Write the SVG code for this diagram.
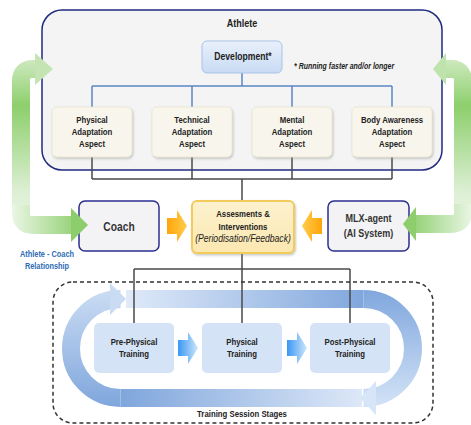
<svg xmlns="http://www.w3.org/2000/svg" width="471" height="425" viewBox="0 0 471 425">
<style>
text{font-family:"Liberation Sans",Arial,sans-serif;fill:#222;text-anchor:middle;font-weight:bold}
.asp{font-size:9.5px}
.tr{font-size:9.5px}
.it{font-style:italic;font-weight:normal}
.box{fill:#f3f3f5;stroke:#2b2f8f;stroke-width:1.5}
.aspect{fill:#f8f6ec;stroke:#ebe6cf;stroke-width:0.8}
.trbox{fill:#d4e3f5}
.blue{fill:none;stroke:#5b86c5;stroke-width:1.5}
.gray{fill:none;stroke:#4a4a4a;stroke-width:1.5}
.band{fill:none;stroke-width:18}
</style>
<defs>
<filter id="sh" x="-10%" y="-10%" width="130%" height="130%">
<feDropShadow dx="1" dy="1.5" stdDeviation="1" flood-color="#888" flood-opacity="0.45"/>
</filter>
<linearGradient id="dev" x1="0" y1="0" x2="0" y2="1"><stop offset="0" stop-color="#e9f0fb"/><stop offset="1" stop-color="#c8dbf4"/></linearGradient>
<linearGradient id="asm" x1="0" y1="0" x2="0" y2="1"><stop offset="0" stop-color="#fdf2cf"/><stop offset="1" stop-color="#fbe7b0"/></linearGradient>
<linearGradient id="orL" x1="0" y1="0" x2="1" y2="0"><stop offset="0" stop-color="#ffa50a"/><stop offset="1" stop-color="#ffcc4d"/></linearGradient>
<linearGradient id="orR" x1="1" y1="0" x2="0" y2="0"><stop offset="0" stop-color="#ffa50a"/><stop offset="1" stop-color="#ffcc4d"/></linearGradient>
<linearGradient id="sb" x1="0" y1="0" x2="1" y2="0"><stop offset="0" stop-color="#3a97f3"/><stop offset="1" stop-color="#cfe6fb"/></linearGradient>
<linearGradient id="gLv" gradientUnits="userSpaceOnUse" x1="0" y1="55" x2="0" y2="225"><stop offset="0" stop-color="#d4ecc7"/><stop offset="0.3" stop-color="#8dcf6c"/><stop offset="0.8" stop-color="#dcefd3"/><stop offset="1" stop-color="#eaf6e5"/></linearGradient>
<linearGradient id="gLh" gradientUnits="userSpaceOnUse" x1="12" y1="0" x2="80" y2="0"><stop offset="0" stop-color="#eaf6e5"/><stop offset="1" stop-color="#8fcf6f"/></linearGradient>
<linearGradient id="gRh" gradientUnits="userSpaceOnUse" x1="472" y1="0" x2="410" y2="0"><stop offset="0" stop-color="#eaf6e5"/><stop offset="1" stop-color="#8fcf6f"/></linearGradient>
<linearGradient id="ltA" gradientUnits="userSpaceOnUse" x1="126" y1="0" x2="364" y2="0"><stop offset="0" stop-color="#e0eaf9"/><stop offset="1" stop-color="#80a7dd"/></linearGradient>
<linearGradient id="lrB" gradientUnits="userSpaceOnUse" x1="0" y1="290" x2="0" y2="407"><stop offset="0" stop-color="#80a7dd"/><stop offset="1" stop-color="#d3e3f7"/></linearGradient>
<linearGradient id="lbA" gradientUnits="userSpaceOnUse" x1="362" y1="0" x2="120" y2="0"><stop offset="0" stop-color="#dde8f8"/><stop offset="1" stop-color="#7fa6dc"/></linearGradient>
<linearGradient id="llA" gradientUnits="userSpaceOnUse" x1="0" y1="407" x2="0" y2="290"><stop offset="0" stop-color="#7fa6dc"/><stop offset="1" stop-color="#cadcf3"/></linearGradient>
</defs>

<g id="athlete">
<rect x="42" y="10" width="400" height="160" rx="20" fill="#f4f4f4" stroke="#1f2a80" stroke-width="1.5"/>
<g transform="translate(242 0) scale(0.82 1)"><text x="0" y="27" font-size="11">Athlete</text></g>
<g transform="translate(294 0) scale(0.82 1)"><text x="0" y="69" font-size="8.5" style="text-anchor:start;font-style:italic">* Running faster and/or longer</text></g>
</g>

<g id="loop">
<path class="band" stroke="url(#lbA)" d="M362 398 H120.5"/>
<path class="band" stroke="url(#llA)" d="M120.5 398 A49.5 49.5 0 0 1 120.5 299 H112"/>
<polygon points="110,283 126,299 110,315" fill="#cadcf3"/>
<path class="band" stroke="url(#ltA)" d="M126 299 H363.5"/>
<path class="band" stroke="url(#lrB)" d="M363.5 299 A49.5 49.5 0 0 1 363.5 398 H374"/>
<polygon points="376,381 360,398 376,415" fill="#d6e5f8"/>
</g>

<g id="connectors">
<path class="blue" d="M242 73 V86 M92 86 H392 M92 86 V107 M192 86 V107 M292 86 V107 M392 86 V107"/>
<path class="gray" d="M92 157 V179 M192 157 V179 M292 157 V179 M392 157 V179 M92 179 H392 M242 179 V201"/>
<path class="gray" d="M242 253 V323 M134 269 H350 M134 269 V323 M350 269 V323"/>
</g>

<g id="development">
<rect x="202" y="41" width="80" height="32" rx="5" fill="url(#dev)" stroke="#a9c3e8" stroke-width="1"/>
<g transform="translate(243 0) scale(0.82 1)"><text x="0" y="60.5" font-size="10.5">Development*</text></g>
</g>

<g id="physical-aspect">
<rect x="52" y="107" width="80" height="50" rx="5" class="aspect" filter="url(#sh)"/>
<g transform="translate(92 0) scale(0.82 1)">
<text x="0" y="123.5" class="asp">Physical</text>
<text x="0" y="135.5" class="asp">Adaptation</text>
<text x="0" y="147.5" class="asp">Aspect</text>
</g>
</g>
<g id="technical-aspect">
<rect x="152" y="107" width="80" height="50" rx="5" class="aspect" filter="url(#sh)"/>
<g transform="translate(192 0) scale(0.82 1)">
<text x="0" y="123.5" class="asp">Technical</text>
<text x="0" y="135.5" class="asp">Adaptation</text>
<text x="0" y="147.5" class="asp">Aspect</text>
</g>
</g>
<g id="mental-aspect">
<rect x="252" y="107" width="80" height="50" rx="5" class="aspect" filter="url(#sh)"/>
<g transform="translate(292 0) scale(0.82 1)">
<text x="0" y="123.5" class="asp">Mental</text>
<text x="0" y="135.5" class="asp">Adaptation</text>
<text x="0" y="147.5" class="asp">Aspect</text>
</g>
</g>
<g id="body-aspect">
<rect x="352" y="107" width="80" height="50" rx="5" class="aspect" filter="url(#sh)"/>
<g transform="translate(392 0) scale(0.82 1)">
<text x="0" y="123.5" class="asp">Body Awareness</text>
<text x="0" y="135.5" class="asp">Adaptation</text>
<text x="0" y="147.5" class="asp">Aspect</text>
</g>
</g>

<g id="coach">
<rect x="79" y="201" width="80" height="50" rx="6" class="box"/>
<g transform="translate(119 0) scale(0.82 1)"><text x="0" y="231" font-size="12.5" style="fill:#333">Coach</text></g>
</g>
<g id="mlx-agent">
<rect x="328" y="201" width="81" height="50" rx="6" class="box"/>
<g transform="translate(368.5 0) scale(0.82 1)">
<text x="0" y="222.5" font-size="11" style="fill:#333">MLX-agent</text>
<text x="0" y="237.5" font-size="11" style="fill:#333">(AI System)</text>
</g>
</g>
<g id="assessments">
<rect x="192" y="201" width="102" height="52" rx="5" fill="url(#asm)" stroke="#f2cb5a" stroke-width="2" filter="url(#sh)"/>
<g transform="translate(243 0) scale(0.82 1)">
<text x="0" y="217.5" font-size="9.5">Assesments &amp;</text>
<text x="0" y="230" font-size="9.5">Interventions</text>
<text x="0" y="242.5" font-size="10.5" class="it">(Periodisation/Feedback)</text>
</g>
</g>

<g id="orange-arrows">
<polygon points="167,218 177,218 177,210 187,226 177,242 177,234 167,234" fill="url(#orL)"/>
<polygon points="322,218 312,218 312,210 302,226 312,242 312,234 322,234" fill="url(#orR)"/>
</g>

<g id="green-left">
<path class="band" stroke="url(#gLv)" d="M36 69 H33 Q21 69 21 81 V213"/>
<path class="band" stroke="url(#gLh)" d="M21 205 V213 Q21 225 33 225 H72"/>
<polygon points="35,53 53,69 35,85" fill="#c4e5b3"/>
<polygon points="71,208 88,225 71,242" fill="#8dcd6c"/>
</g>
<g id="green-right">
<path class="band" stroke="url(#gLv)" d="M446 69 H451 Q463 69 463 81 V212"/>
<path class="band" stroke="url(#gRh)" d="M463 204 V212 Q463 224 451 224 H415"/>
<polygon points="446,53 433,69 446,85" fill="#bfe3ad"/>
<polygon points="416,207 403,224 416,241" fill="#8dcd6c"/>
</g>
<g transform="translate(47 0) scale(0.82 1)">
<text x="0" y="257" font-size="9" style="fill:#2e6db5">Athlete - Coach</text>
<text x="0" y="269" font-size="9" style="fill:#2e6db5">Relationship</text>
</g>

<g id="session">
<rect x="53" y="282" width="380" height="141" rx="20" fill="none" stroke="#333" stroke-width="1.5" stroke-dasharray="4 3"/>
<g transform="translate(242 0) scale(0.82 1)"><text x="0" y="417.5" class="tr">Training Session Stages</text></g>
</g>

<g id="pre-physical">
<rect x="94" y="323" width="80" height="50" rx="5" class="trbox"/>
<g transform="translate(134 0) scale(0.82 1)">
<text x="0" y="345.5" class="tr">Pre-Physical</text>
<text x="0" y="357.5" class="tr">Training</text>
</g>
</g>
<g id="physical">
<rect x="202" y="323" width="80" height="50" rx="5" class="trbox"/>
<g transform="translate(242 0) scale(0.82 1)">
<text x="0" y="345.5" class="tr">Physical</text>
<text x="0" y="357.5" class="tr">Training</text>
</g>
</g>
<g id="post-physical">
<rect x="310" y="323" width="80" height="50" rx="5" class="trbox"/>
<g transform="translate(350 0) scale(0.82 1)">
<text x="0" y="345.5" class="tr">Post-Physical</text>
<text x="0" y="357.5" class="tr">Training</text>
</g>
</g>
<g id="stage-arrows">
<polygon points="178,340 188,340 188,332 198,348 188,364 188,356 178,356" fill="url(#sb)"/>
<polygon points="287,340 297,340 297,332 307,348 297,364 297,356 287,356" fill="url(#sb)"/>
</g>
</svg>
